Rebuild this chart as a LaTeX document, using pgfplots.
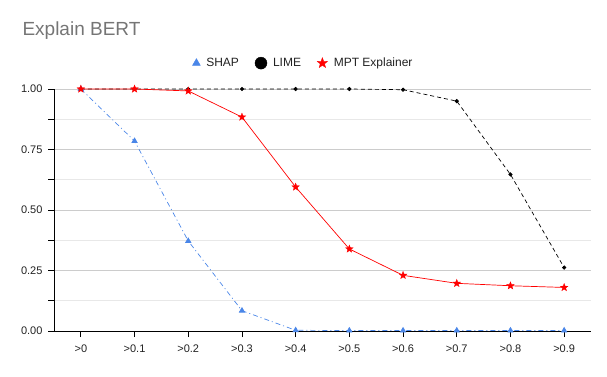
\documentclass[border=0pt]{standalone}
\usepackage{pgfplots}
\pgfplotsset{compat=1.18}
\usetikzlibrary{shapes.geometric}
\usepackage{fontspec}
\setmainfont{Liberation Sans}

\definecolor{shapblue}{HTML}{4A86E8}
\definecolor{majgrid}{HTML}{CCCCCC}
\definecolor{mingrid}{HTML}{E8E8E8}
\definecolor{titlegray}{HTML}{757575}
\definecolor{labgray}{HTML}{222222}

% filled five-pointed star
\pgfdeclareplotmark{fstar}{%
  \node[star, star points=5, star point ratio=2.4, fill, draw, line width=0.3pt,
        inner sep=0pt, minimum size=2\pgfplotmarksize] {};}

\begin{document}
\begin{tikzpicture}[x=1pt,y=1pt]
\path[use as bounding box] (0,0) rectangle (607,376);
\node[anchor=west, text=titlegray, font=\fontsize{19}{22}\selectfont] at (19,345) {Explain BERT};
\begin{axis}[
    at={(54pt,45pt)}, anchor=south west,
    scale only axis,
    width=537pt, height=242pt,
    xmin=-0.5, xmax=9.5,
    ymin=0, ymax=1,
    xtick={0,...,9},
    xticklabels={>0,>0.1,>0.2,>0.3,>0.4,>0.5,>0.6,>0.7,>0.8,>0.9},
    ytick={0,0.25,0.5,0.75,1},
    minor ytick={0.125,0.375,0.625,0.875},
    yticklabel style={/pgf/number format/.cd, fixed, fixed zerofill, precision=2},
    /pgf/number format/assume math mode=true,
    ticklabel style={font=\fontsize{11}{13}\selectfont, text=labgray},
    axis x line*=bottom, axis y line*=left,
    axis line style={black, line width=0.8pt, -},
    tick style={black, line width=0.8pt},
    tick align=outside,
    major tick length=6pt, minor tick length=6pt,
    ymajorgrids, yminorgrids,
    major grid style={majgrid, line width=0.8pt},
    minor grid style={mingrid, line width=0.8pt},
    xticklabel shift=4pt,
    yticklabel shift=2pt,
    clip=false,
    legend image code/.code={\draw[#1] plot coordinates {(0pt,0pt)};},
    legend style={at={(0.4646,1.107)}, anchor=center, draw=none, fill=none,
        legend columns=-1, font=\fontsize{12}{14}\selectfont, text=labgray,
        /tikz/every odd column/.append style={column sep=4pt},
        /tikz/every even column/.append style={column sep=14pt}},
    legend cell align=left,
]
\addplot[shapblue, line width=0.7pt, dash pattern=on 5pt off 3pt on 1pt off 3pt,
    mark=triangle*, mark size=3pt, mark options={solid, fill=shapblue, draw=shapblue}, forget plot]
coordinates {
    (0,1.00) (1,0.785) (2,0.372) (3,0.084) (4,0.003)
    (5,0.002) (6,0.002) (7,0.002) (8,0.002) (9,0.002)
};
\addplot[black, line width=0.7pt, dash pattern=on 4pt off 3pt,
    mark=*, mark size=1.7pt, mark options={solid, fill=black}, forget plot]
coordinates {
    (0,1.00) (1,1.00) (2,1.00) (3,1.00) (4,1.00)
    (5,1.00) (6,0.997) (7,0.950) (8,0.647) (9,0.262)
};
\addplot[red, line width=0.7pt,
    mark=fstar, mark size=4pt, mark options={solid, fill=red, draw=red}, forget plot]
coordinates {
    (0,1.00) (1,1.00) (2,0.992) (3,0.884) (4,0.595)
    (5,0.339) (6,0.230) (7,0.197) (8,0.187) (9,0.180)
};
\addlegendimage{only marks, mark=triangle*, mark size=4.5pt, shapblue, fill=shapblue}
\addlegendentry{SHAP}
\addlegendimage{only marks, mark=*, mark size=6pt, black}
\addlegendentry{LIME}
\addlegendimage{only marks, mark=fstar, mark size=5.5pt, red, fill=red}
\addlegendentry{MPT Explainer}
\end{axis}
\end{tikzpicture}
\end{document}
